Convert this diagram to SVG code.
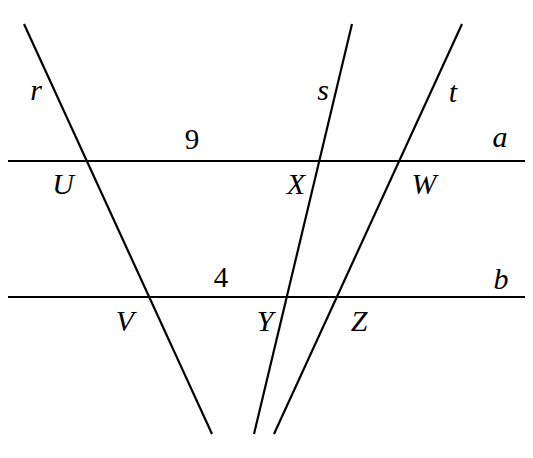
<svg xmlns="http://www.w3.org/2000/svg" width="533" height="458" viewBox="0 0 533 458">
<style>
.ln{stroke:#000;stroke-width:2.2;fill:none}
.lb{font-family:"Liberation Serif",serif;font-style:italic;font-size:30px;fill:#000;text-anchor:middle}
.num{font-family:"Liberation Serif",serif;font-size:29px;fill:#000;text-anchor:middle}
</style>
<rect width="533" height="458" fill="#fff"/>
<g id="lines">
<line class="ln" x1="8" y1="161" x2="525" y2="161"/>
<line class="ln" x1="8" y1="297" x2="525" y2="297"/>
<line class="ln" x1="24" y1="24" x2="212" y2="434"/>
<line class="ln" x1="352" y1="24" x2="254" y2="434"/>
<line class="ln" x1="462" y1="24" x2="274" y2="434"/>
</g>
<g id="labels">
<text class="lb" x="36" y="100">r</text>
<text class="lb" x="323" y="100">s</text>
<text class="lb" x="453" y="102">t</text>
<text class="lb" x="500" y="147">a</text>
<text class="lb" x="501" y="289">b</text>
<text class="num" x="192" y="149">9</text>
<text class="num" x="221" y="287">4</text>
<text class="lb" x="63" y="194">U</text>
<text class="lb" x="296" y="194">X</text>
<text class="lb" x="424" y="194">W</text>
<text class="lb" x="125" y="331">V</text>
<text class="lb" x="265" y="331">Y</text>
<text class="lb" x="359" y="331">Z</text>
</g>
</svg>
